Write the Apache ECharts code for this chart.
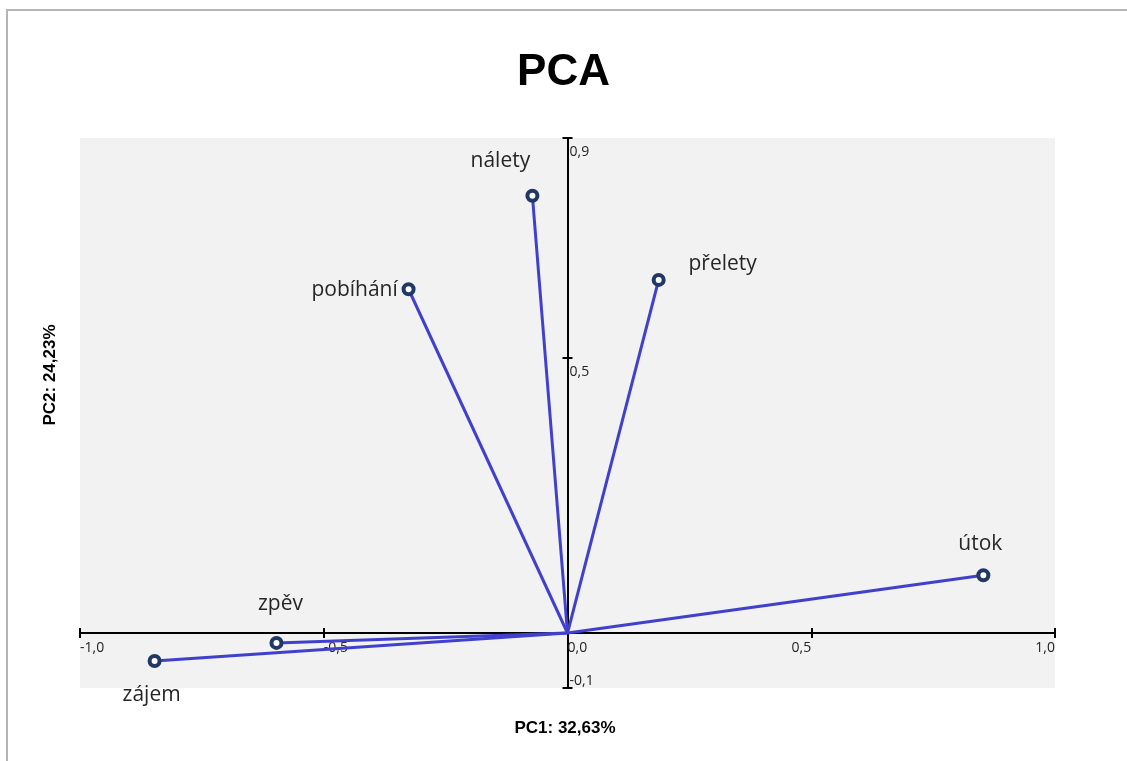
<!DOCTYPE html>
<html>
<head>
<meta charset="utf-8">
<title>PCA</title>
<script src="https://cdn.jsdelivr.net/npm/echarts@6/dist/echarts.min.js"></script>
<style>
html, body { margin: 0; padding: 0; background: #fff; }
#chart { width: 1127px; height: 761px; }
</style>
</head>
<body>
<div id="chart"></div>
<script>
// loadings
var variables = ['nálety', 'přelety', 'pobíhání', 'útok', 'zpěv', 'zájem'];
var pc1 = [-0.072, 0.187, -0.326, 0.853, -0.597, -0.847];
var pc2 = [0.795, 0.642, 0.625, 0.105, -0.018, -0.051];

var xTicks = [-1, -0.5, 0.5, 1];
var xLabelsLeft = [-1, -0.5, 0];   // text starts at the tick
var xLabelsRight = [0.5, 1];       // text ends at the tick
var yTicks = [-0.1, 0.5, 0.9];

// where each name sits relative to its marker
var labelOffset = {
    'nálety': [-32, -35],
    'přelety': [64, -16],
    'pobíhání': [-54, 1],
    'útok': [-3, -31],
    'zpěv': [4, -39],
    'zájem': [-3, 34]
};

function fmt(v) {
    return v.toFixed(1).replace('.', ',');
}

var axisColor = '#000';
var tickFont = { fontFamily: 'Open Sans', fontSize: 14, color: '#222' };

// the axes cross at (0,0): grid is 975 x 550 px, so shift axes from the edges
var grid = { left: 80, right: 72, top: 138, bottom: 73 };
var xZeroShift = -975 * 0.5;     // from left/right edge to x = 0
var yZeroFromBottom = -550 * 0.1; // from bottom edge to y = 0
var yZeroFromTop = -550 * 0.9;    // from top edge to y = 0

var series = variables.map(function (name, i) {
    return {
        name: name,
        type: 'line',
        xAxisIndex: 0,
        yAxisIndex: 0,
        symbol: 'circle',
        symbolSize: 10,
        showAllSymbol: true,
        lineStyle: { color: '#4040cc', width: 3 },
        itemStyle: { color: '#fff', borderColor: '#1f3864', borderWidth: 4 },
        emphasis: { disabled: true },
        data: [
            { value: [0, 0], symbol: 'none' },
            {
                value: [pc1[i], pc2[i]],
                label: {
                    show: true,
                    position: 'inside',
                    offset: labelOffset[name],
                    formatter: name,
                    fontFamily: 'Open Sans',
                    fontSize: 21,
                    color: '#262626'
                }
            }
        ]
    };
});

var chart = echarts.init(document.getElementById('chart'));

chart.setOption({
    backgroundColor: '#fff',
    animation: false,
    title: {
        text: 'PCA',
        left: 'center',
        top: 46,
        textStyle: { fontFamily: 'Liberation Sans', fontSize: 44, fontWeight: 'bold', color: '#000' }
    },
    grid: Object.assign({ show: true, backgroundColor: '#f2f2f2', borderWidth: 0 }, grid),
    xAxis: [
        {
            type: 'value', min: -1, max: 1, position: 'bottom', offset: yZeroFromBottom,
            axisLine: { onZero: false, lineStyle: { color: axisColor, width: 2 } },
            axisTick: { show: true, customValues: xTicks, length: 5, lineStyle: { color: axisColor, width: 2 } },
            axisLabel: Object.assign({ customValues: xLabelsLeft, align: 'left', margin: 8, formatter: fmt }, tickFont),
            splitLine: { show: false }
        },
        {
            type: 'value', min: -1, max: 1, position: 'top', offset: yZeroFromTop,
            axisLine: { show: false, onZero: false },
            axisTick: { show: true, customValues: xTicks, length: 5, lineStyle: { color: axisColor, width: 2 } },
            axisLabel: Object.assign({ inside: true, customValues: xLabelsRight, align: 'right', margin: 8, formatter: fmt }, tickFont),
            splitLine: { show: false }
        }
    ],
    yAxis: [
        {
            type: 'value', min: -0.1, max: 0.9, position: 'left', offset: xZeroShift,
            axisLine: { onZero: false, lineStyle: { color: axisColor, width: 2 } },
            axisTick: { show: true, customValues: yTicks, length: 5, lineStyle: { color: axisColor, width: 2 } },
            axisLabel: { show: false },
            splitLine: { show: false }
        },
        {
            type: 'value', min: -0.1, max: 0.9, position: 'right', offset: xZeroShift,
            axisLine: { show: false, onZero: false },
            axisTick: { show: true, customValues: yTicks, length: 5, lineStyle: { color: axisColor, width: 2 } },
            axisLabel: Object.assign({
                customValues: yTicks,
                margin: 2,
                formatter: function (v) {
                    return v < 0 ? '{u|' + fmt(v) + '}' : '{d|' + fmt(v) + '}';
                },
                rich: {
                    d: { padding: [28, 0, 0, 0], fontFamily: 'Open Sans', fontSize: 14, color: '#222' },
                    u: { padding: [0, 0, 14, 0], fontFamily: 'Open Sans', fontSize: 14, color: '#222' }
                }
            }, tickFont),
            splitLine: { show: false }
        }
    ],
    graphic: [
        {
            type: 'rect', silent: true,
            shape: { x: 7, y: 10, width: 1200, height: 800 },
            style: { fill: 'none', stroke: '#b4b4b4', lineWidth: 2 }
        },
        {
            type: 'text', x: 565, y: 728,
            style: { text: 'PC1: 32,63%', align: 'center', verticalAlign: 'middle', font: 'bold 17px "Liberation Sans"', fill: '#000' }
        },
        {
            type: 'text', x: 50, y: 375, rotation: Math.PI / 2,
            style: { text: 'PC2: 24,23%', align: 'center', verticalAlign: 'middle', font: 'bold 17px "Liberation Sans"', fill: '#000' }
        }
    ],
    series: series
});
</script>
</body>
</html>
